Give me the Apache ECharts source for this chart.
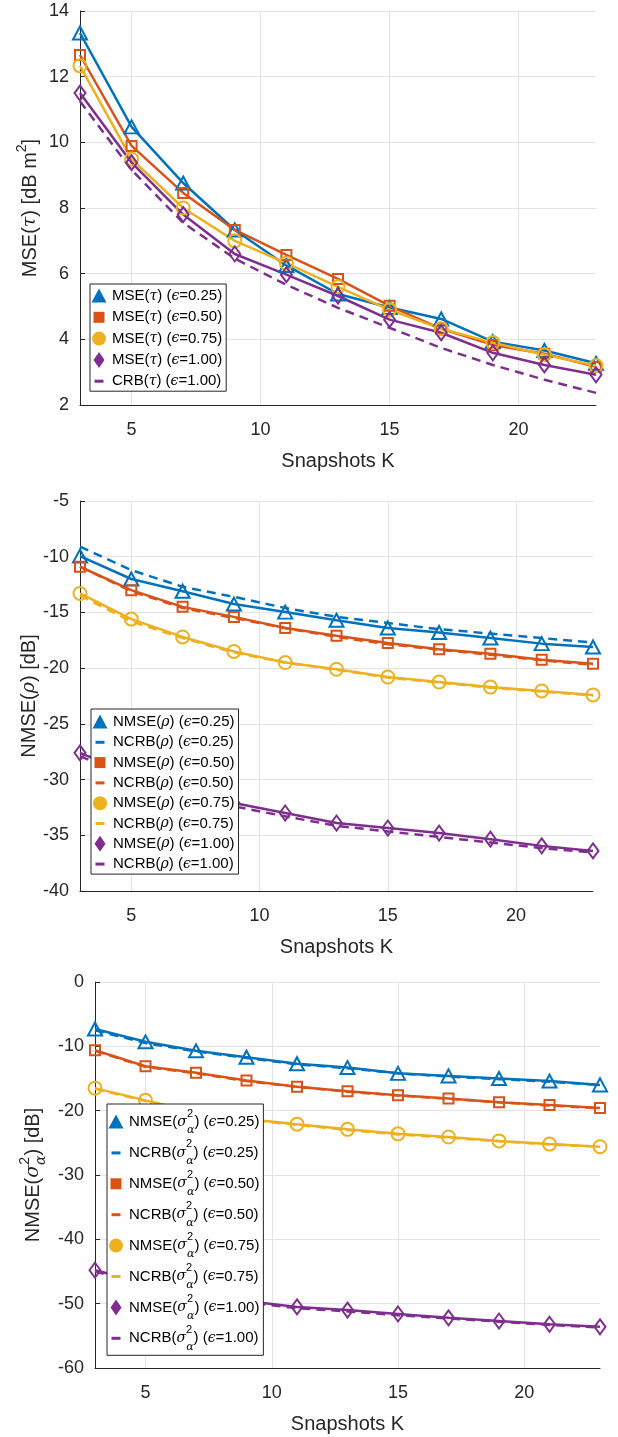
<!DOCTYPE html>
<html><head><meta charset="utf-8">
<script src="https://cdn.jsdelivr.net/npm/echarts@6/dist/echarts.min.js"></script>
<style>html,body{margin:0;padding:0;background:#fff}#c{width:618px;height:1437px}</style>
</head><body><div id="c"></div>
<script>
// ---------- data ----------
const K = [3, 5, 7, 9, 11, 13, 15, 17, 19, 21, 23];
const X_TICKS = [5, 10, 15, 20];

// Panel 1: MSE(tau)
const mseTau025 = [13.33, 10.47, 8.76, 7.33, 6.25, 5.38, 4.97, 4.62, 3.93, 3.66, 3.27];
const mseTau050 = [12.66, 9.89, 8.46, 7.33, 6.57, 5.84, 5.02, 4.32, 3.83, 3.56, 3.16];
const mseTau075 = [12.33, 9.49, 8.00, 7.00, 6.32, 5.60, 4.90, 4.32, 3.90, 3.53, 3.20];
const mseTau100 = [11.50, 9.38, 7.80, 6.60, 5.97, 5.32, 4.60, 4.20, 3.59, 3.22, 2.92];
const crbTau100 = [11.25, 9.16, 7.55, 6.46, 5.66, 4.96, 4.35, 3.74, 3.22, 2.77, 2.37];

// Panel 2: NMSE(rho)
const nmseRho025 = [-9.94, -12.0, -13.1, -14.25, -14.97, -15.7, -16.4, -16.8, -17.3, -17.8, -18.1];
const ncrbRho025 = [-9.1, -11.2, -12.7, -13.6, -14.6, -15.4, -15.95, -16.5, -16.9, -17.3, -17.7];
const nmseRho050 = [-10.9, -13.0, -14.5, -15.4, -16.4, -17.1, -17.75, -18.3, -18.7, -19.25, -19.6];
const ncrbRho050 = [-10.9, -13.1, -14.6, -15.5, -16.4, -17.2, -17.85, -18.35, -18.8, -19.3, -19.7];
const nmseRho075 = [-13.3, -15.6, -17.2, -18.5, -19.5, -20.1, -20.8, -21.25, -21.7, -22.05, -22.4];
const ncrbRho075 = [-13.5, -15.8, -17.3, -18.6, -19.5, -20.15, -20.85, -21.3, -21.75, -22.1, -22.45];
const nmseRho100 = [-27.6, -29.5, -31.0, -32.1, -33.0, -33.9, -34.35, -34.8, -35.35, -35.95, -36.4];
const ncrbRho100 = [-27.9, -29.8, -31.3, -32.4, -33.3, -34.15, -34.65, -35.15, -35.65, -36.15, -36.55];

// Panel 3: NMSE(sigma_alpha^2)
const nmseSig025 = [-7.3, -9.3, -10.7, -11.7, -12.7, -13.3, -14.2, -14.6, -15.0, -15.4, -16.0];
const ncrbSig025 = [-7.5, -9.5, -10.8, -11.8, -12.8, -13.4, -14.2, -14.7, -15.1, -15.5, -16.0];
const nmseSig050 = [-10.6, -13.1, -14.1, -15.3, -16.3, -17.0, -17.6, -18.1, -18.7, -19.1, -19.6];
const ncrbSig050 = [-10.7, -13.2, -14.2, -15.4, -16.3, -17.05, -17.65, -18.15, -18.7, -19.2, -19.65];
const nmseSig075 = [-16.5, -18.4, -20.2, -21.3, -22.1, -22.9, -23.6, -24.1, -24.7, -25.2, -25.6];
const ncrbSig075 = [-16.6, -18.5, -20.3, -21.4, -22.2, -23.0, -23.7, -24.2, -24.75, -25.25, -25.6];
const nmseSig100 = [-44.8, -46.8, -48.4, -49.6, -50.5, -51.0, -51.6, -52.2, -52.7, -53.2, -53.6];
const ncrbSig100 = [-45.0, -47.0, -48.6, -49.8, -50.7, -51.2, -51.8, -52.3, -52.8, -53.3, -53.7];

// ---------- styling ----------
const FONT = '"Liberation Sans", Arial, Helvetica, sans-serif';
const GREEK = '"DejaVu Serif", "Liberation Serif", serif';
const INK = '#262626';
const GRIDC = '#e3e3e3';
const BLUE = '#0072BD', ORANGE = '#D95319', YELLOW = '#EDB120', PURPLE = '#7E2F8E';

const MARK = {
  tri: {sym: 'triangle', size: [14, 13], icon: 'path://M0,0M16,16M8,0.5L15.5,14.5H0.5Z'},
  sq:  {sym: 'rect', size: [10, 10], icon: 'path://M0,0M16,16M2.5,2.5H13.5V13.5H2.5Z'},
  ci:  {sym: 'circle', size: [13, 13], icon: 'path://M0,0M16,16M8,1A7,7,0,1,1,8,15A7,7,0,1,1,8,1Z'},
  di:  {sym: 'diamond', size: [11, 15], icon: 'path://M0,0M16,16M8,0L13.5,8L8,16L2.5,8Z'},
  dash:{sym: 'none', size: 0, icon: 'path://M0,0M16,16M3.5,6.5H12.5V9.5H3.5Z'}
};

function toRich(s) {
  let out = '', buf = '';
  const flush = () => { if (buf) { out += '{n|' + buf + '}'; buf = ''; } };
  for (let i = 0; i < s.length; i++) {
    const ch = s[i];
    if (ch === '^') { flush(); out += '{sp|' + s[++i] + '}'; }
    else if (ch === '~') { flush(); out += '{sq|' + s[++i] + '}'; }
    else if (ch === '_') { flush(); out += '{sb|' + s[++i] + '}'; }
    else if ('τρσαϵ'.includes(ch)) { flush(); out += '{g|' + ch + '}'; }
    else buf += ch;
  }
  flush();
  return out;
}

const series = [];

function addSeries(gi, name, vals, color, mk, dashed, withGrid) {
  const m = MARK[mk];
  const s = {
    type: 'line', name: name, xAxisIndex: gi, yAxisIndex: gi,
    data: K.map((k, i) => [k, vals[i]]),
    symbol: m.sym, symbolSize: m.size, showSymbol: m.sym !== 'none',
    lineStyle: {color: color, width: 2.5, type: dashed ? [9, 6] : 'solid'},
    itemStyle: {color: 'none', borderColor: color, borderWidth: 2},
    emphasis: {disabled: true}, silent: true, z: 2
  };
  if (withGrid) {
    s.markLine = {
      silent: true, symbol: ['none', 'none'], z: 1, animation: false,
      label: {show: false},
      lineStyle: {color: GRIDC, width: 1, type: 'solid'},
      emphasis: {disabled: true},
      data: X_TICKS.map(v => ({xAxis: v}))
    };
  }
  series.push(s);
  return {name: name, icon: m.icon, itemStyle: {color: color, borderWidth: 0, opacity: 1}};
}

// Panel 1
const L1 = [
  addSeries(0, 'MSE(τ) (ϵ=0.25)', mseTau025, BLUE, 'tri', false, true),
  addSeries(0, 'MSE(τ) (ϵ=0.50)', mseTau050, ORANGE, 'sq', false),
  addSeries(0, 'MSE(τ) (ϵ=0.75)', mseTau075, YELLOW, 'ci', false),
  addSeries(0, 'MSE(τ) (ϵ=1.00)', mseTau100, PURPLE, 'di', false),
  addSeries(0, 'CRB(τ) (ϵ=1.00)', crbTau100, PURPLE, 'dash', true)
];
// Panel 2
const L2 = [
  addSeries(1, 'NMSE(ρ) (ϵ=0.25)', nmseRho025, BLUE, 'tri', false, true),
  addSeries(1, 'NCRB(ρ) (ϵ=0.25)', ncrbRho025, BLUE, 'dash', true),
  addSeries(1, 'NMSE(ρ) (ϵ=0.50)', nmseRho050, ORANGE, 'sq', false),
  addSeries(1, 'NCRB(ρ) (ϵ=0.50)', ncrbRho050, ORANGE, 'dash', true),
  addSeries(1, 'NMSE(ρ) (ϵ=0.75)', nmseRho075, YELLOW, 'ci', false),
  addSeries(1, 'NCRB(ρ) (ϵ=0.75)', ncrbRho075, YELLOW, 'dash', true),
  addSeries(1, 'NMSE(ρ) (ϵ=1.00)', nmseRho100, PURPLE, 'di', false),
  addSeries(1, 'NCRB(ρ) (ϵ=1.00)', ncrbRho100, PURPLE, 'dash', true)
];
// Panel 3
const L3 = [
  addSeries(2, 'NMSE(σ~2_α) (ϵ=0.25)', nmseSig025, BLUE, 'tri', false, true),
  addSeries(2, 'NCRB(σ~2_α) (ϵ=0.25)', ncrbSig025, BLUE, 'dash', true),
  addSeries(2, 'NMSE(σ~2_α) (ϵ=0.50)', nmseSig050, ORANGE, 'sq', false),
  addSeries(2, 'NCRB(σ~2_α) (ϵ=0.50)', ncrbSig050, ORANGE, 'dash', true),
  addSeries(2, 'NMSE(σ~2_α) (ϵ=0.75)', nmseSig075, YELLOW, 'ci', false),
  addSeries(2, 'NCRB(σ~2_α) (ϵ=0.75)', ncrbSig075, YELLOW, 'dash', true),
  addSeries(2, 'NMSE(σ~2_α) (ϵ=1.00)', nmseSig100, PURPLE, 'di', false),
  addSeries(2, 'NCRB(σ~2_α) (ϵ=1.00)', ncrbSig100, PURPLE, 'dash', true)
];

const richSmall = {
  n: {fontSize: 15, fontFamily: FONT, color: '#000', lineHeight: 16},
  g: {fontSize: 14, fontFamily: GREEK, fontStyle: 'italic', color: '#000', lineHeight: 16}
};
const richTall = {
  n: {fontSize: 15, fontFamily: FONT, color: '#000', lineHeight: 28},
  g: {fontSize: 14, fontFamily: GREEK, fontStyle: 'italic', color: '#000', lineHeight: 28},
  sq: {fontSize: 11, fontFamily: FONT, color: '#000', lineHeight: 12, verticalAlign: 'top', padding: [0, -6, 0, 0]},
  sb: {fontSize: 11, fontFamily: GREEK, fontStyle: 'italic', color: '#000', lineHeight: 12, verticalAlign: 'bottom'}
};

function legendCfg(data, left, top, gap, pad, rich) {
  return {
    orient: 'vertical', left: left, top: top, data: data,
    itemGap: gap, itemWidth: 16, itemHeight: 16, padding: pad,
    backgroundColor: '#fff', borderColor: INK, borderWidth: 1, borderRadius: 0,
    selectedMode: false, z: 10,
    formatter: name => toRich(name),
    textStyle: {fontSize: 15, fontFamily: FONT, color: '#000', rich: rich}
  };
}

function xAxisCfg(gi) {
  return {
    type: 'value', gridIndex: gi, min: 3, max: 23,
    axisLine: {show: true, onZero: false, lineStyle: {color: INK, width: 1}},
    axisTick: {show: true, inside: true, length: 5, customValues: X_TICKS, lineStyle: {color: INK}},
    axisLabel: {show: true, customValues: X_TICKS, fontSize: 18, color: INK, margin: 16, fontFamily: FONT},
    splitLine: {show: false},
    name: 'Snapshots K', nameLocation: 'middle', nameGap: 46, nameMoveOverlap: false,
    nameTextStyle: {fontSize: 20, color: INK, fontFamily: FONT}
  };
}

function yAxisCfg(gi, min, max, interval, name, gap) {
  return {
    type: 'value', gridIndex: gi, min: min, max: max, interval: interval,
    axisLine: {show: true, lineStyle: {color: INK, width: 1}},
    axisTick: {show: true, inside: true, length: 5, lineStyle: {color: INK}},
    axisLabel: {fontSize: 18, color: INK, margin: 11, fontFamily: FONT},
    splitLine: {show: true, lineStyle: {color: GRIDC, width: 1}},
    name: toRich(name), nameLocation: 'middle', nameRotate: 90, nameGap: gap,
    nameMoveOverlap: false,
    nameTextStyle: {
      fontSize: 20, color: INK, fontFamily: FONT,
      rich: {
        n: {fontSize: 20, fontFamily: FONT, color: INK, lineHeight: 30},
        g: {fontSize: 19, fontFamily: GREEK, fontStyle: 'italic', color: INK, lineHeight: 30},
        sp: {fontSize: 14, fontFamily: FONT, color: INK, lineHeight: 16, verticalAlign: 'top'},
        sq: {fontSize: 14, fontFamily: FONT, color: INK, lineHeight: 16, verticalAlign: 'top', padding: [0, -8, 0, 0]},
        sb: {fontSize: 14, fontFamily: GREEK, fontStyle: 'italic', color: INK, lineHeight: 16, verticalAlign: 'bottom'}
      }
    }
  };
}

const option = {
  animation: false,
  backgroundColor: '#fff',
  textStyle: {fontFamily: FONT},
  grid: [
    {left: 80, top: 11, width: 516, height: 394, containLabel: false},
    {left: 80, top: 501, width: 513, height: 390, containLabel: false},
    {left: 95, top: 982, width: 505, height: 386, containLabel: false}
  ],
  xAxis: [xAxisCfg(0), xAxisCfg(1), xAxisCfg(2)],
  yAxis: [
    yAxisCfg(0, 2, 14, 2, 'MSE(τ) [dB m^2]', 35),
    yAxisCfg(1, -40, -5, 5, 'NMSE(ρ) [dB]', 36),
    yAxisCfg(2, -60, 0, 10, 'NMSE(σ~2_α) [dB]', 47)
  ],
  legend: [
    legendCfg(L1, 90, 284, 5.3, [4, 4, 2, 1], richSmall),
    legendCfg(L2, 91, 709, 4.3, [5, 4, 2, 1], richSmall),
    legendCfg(L3, 107, 1104, 2.9, [4, 4, 3, 1], richTall)
  ],
  series: series
};

const chart = echarts.init(document.getElementById('c'), null, {renderer: 'canvas'});
chart.setOption(option);
</script>
</body></html>
